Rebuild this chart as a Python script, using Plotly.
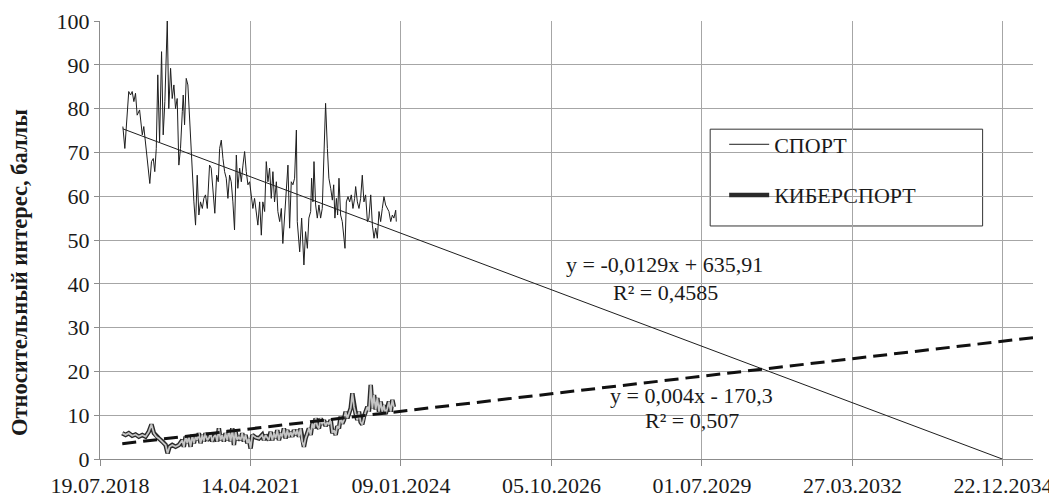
import plotly.graph_objects as go

# ---------------- data (x = Excel date serial numbers) ----------------
sport_x = [43452, 43465, 43491, 43503, 43514, 43525, 43536, 43547, 43563, 43581,
           43591, 43607, 43620, 43631, 43642, 43654, 43664, 43674, 43684, 43696,
           43709, 43720, 43731, 43747, 43757, 43769, 43780, 43791, 43802, 43813,
           43824, 43835, 43847, 43853, 43862, 43873, 43884, 43895, 43908, 43924,
           43935, 43946, 43957, 43968, 43980, 43990, 44001, 44013, 44028, 44039,
           44050, 44063, 44075, 44086, 44095, 44106, 44117, 44128, 44139, 44150,
           44161, 44172, 44183, 44194, 44206, 44216, 44228, 44239, 44250, 44261,
           44272, 44283, 44294, 44305, 44316, 44327, 44339, 44349, 44361, 44372,
           44382, 44394, 44405, 44416, 44427, 44438, 44449, 44460, 44472, 44482,
           44494, 44505, 44515, 44527, 44538, 44549, 44560, 44571, 44582, 44593,
           44605, 44611, 44627, 44640, 44655, 44666, 44678, 44688, 44700, 44706,
           44715, 44722, 44733, 44744, 44755, 44766, 44777, 44788, 44799, 44811,
           44821, 44833, 44844, 44853, 44861, 44871, 44879, 44888, 44899, 44910,
           44928, 44937, 44948, 44959, 44970, 44981, 44992, 44999, 45010, 45021,
           45032, 45043, 45054, 45065, 45077, 45087, 45099, 45110, 45121, 45132,
           45143, 45154, 45165, 45176, 45187, 45198, 45210, 45220, 45232, 45243,
           45253, 45265, 45269]
sport_y = [75.9, 70.9, 83.9, 83.1, 83.9, 81.6, 83.5, 78.5, 79.7, 74.0,
           75.9, 70.2, 66.4, 62.9, 67.9, 68.6, 65.6, 70.9, 87.7, 72.4,
           93.0, 74.0, 81.6, 100.0, 80.0, 89.2, 82.3, 85.4, 80.0, 82.3,
           67.1, 70.9, 79.3, 83.1, 76.3, 86.9, 85.4, 76.3, 69.4, 58.7,
           53.4, 64.8, 55.7, 58.7, 57.2, 59.5, 60.3, 57.2, 67.1, 66.4,
           61.0, 56.1, 64.8, 63.3, 70.9, 72.8, 68.6, 65.6, 64.1, 59.5,
           64.8, 63.3, 58.7, 52.3, 69.4, 61.8, 66.4, 63.3, 67.1, 70.2,
           65.6, 62.6, 63.3, 59.5, 57.2, 59.5, 56.5, 53.4, 58.7, 51.1,
           58.7, 56.5, 67.9, 63.3, 66.4, 59.5, 65.6, 58.7, 63.3, 56.5,
           54.2, 57.2, 49.2, 55.7, 61.8, 67.1, 52.7, 63.3, 62.6, 64.1,
           75.1, 54.2, 47.3, 55.0, 44.3, 51.9, 48.1, 55.0, 56.5, 64.1,
           58.7, 67.9, 58.0, 55.0, 58.0, 55.0, 57.2, 70.9, 81.2, 70.9,
           64.1, 61.8, 59.1, 62.6, 55.0, 59.5, 55.7, 64.1, 55.7, 54.2,
           48.1, 58.7, 59.9, 58.7, 60.3, 57.2, 59.5, 62.2, 58.7, 57.2,
           59.5, 64.8, 58.7, 60.3, 54.2, 55.0, 60.3, 53.4, 50.4, 52.7,
           50.4, 56.5, 54.2, 57.2, 59.9, 58.0, 57.2, 56.5, 54.2, 55.7,
           55.0, 56.8, 54.2]

cyber_x = [43448, 43470, 43491, 43514, 43536, 43558, 43581, 43603, 43624, 43642,
           43658, 43674, 43691, 43714, 43736, 43749, 43762, 43780, 43802, 43824,
           43847, 43857, 43869, 43880, 43890, 43902, 43913, 43924, 43935, 43946,
           43957, 43968, 43980, 43990, 44001, 44013, 44023, 44035, 44046, 44057,
           44068, 44079, 44090, 44101, 44112, 44123, 44134, 44146, 44156, 44168,
           44179, 44190, 44201, 44212, 44223, 44234, 44245, 44256, 44267, 44279,
           44289, 44301, 44312, 44334, 44356, 44378, 44389, 44400, 44422, 44434,
           44445, 44456, 44467, 44478, 44489, 44500, 44511, 44522, 44533, 44545,
           44555, 44567, 44578, 44589, 44600, 44611, 44622, 44633, 44644, 44655,
           44666, 44678, 44688, 44700, 44711, 44722, 44733, 44744, 44755, 44766,
           44777, 44788, 44799, 44811, 44821, 44833, 44844, 44855, 44866, 44877,
           44888, 44899, 44910, 44921, 44932, 44944, 44954, 44966, 44977, 44988,
           44999, 45010, 45021, 45032, 45043, 45054, 45065, 45077, 45087, 45099,
           45110, 45121, 45132, 45143, 45154, 45165, 45176, 45187, 45198, 45210,
           45220, 45232, 45243, 45253]
cyber_y = [5.9, 5.5, 5.9, 5.3, 5.6, 5.1, 5.5, 5.1, 6.2, 7.9,
           5.9, 5.1, 4.7, 4.0, 3.2, 1.3, 2.8, 3.2, 2.8, 3.2,
           4.3, 2.8, 5.1, 3.6, 5.1, 2.8, 5.5, 3.6, 5.1, 4.3,
           5.9, 3.6, 5.5, 4.0, 5.9, 4.3, 4.7, 5.9, 4.0, 5.1,
           5.5, 4.0, 7.0, 4.3, 5.5, 4.0, 5.9, 4.3, 6.6, 4.0,
           7.0, 3.2, 6.2, 4.3, 5.1, 4.3, 5.9, 4.0, 5.5, 3.6,
           4.7, 2.4, 5.5, 4.9, 4.7, 5.5, 4.3, 5.5, 4.3, 6.2,
           4.3, 5.9, 4.7, 6.6, 4.3, 5.9, 5.1, 7.0, 4.7, 6.6,
           5.1, 6.2, 5.1, 6.6, 5.5, 6.6, 5.1, 7.0, 4.0, 2.8,
           4.7, 5.9, 7.0, 5.5, 8.1, 7.0, 9.3, 7.5, 7.0, 9.3,
           7.9, 8.9, 7.5, 8.4, 7.9, 8.9, 5.9, 6.6, 5.5, 7.5,
           7.0, 9.7, 8.1, 8.9, 10.8, 9.3, 10.5, 11.6, 15.0, 11.9,
           10.3, 8.9, 10.8, 8.4, 7.9, 9.7, 10.8, 11.9, 10.8, 16.9,
           11.6, 14.6, 11.3, 13.9, 10.8, 13.1, 10.8, 12.3, 10.3, 11.6,
           13.1, 10.8, 13.5, 11.9]

# linear trend equations shown on the chart: y = a*x + b
sport_trend = {"a": -0.0129, "b": 635.91, "end": 49298}
cyber_trend = {"a": 0.004, "b": -170.3, "end": 49500}

tick_vals = [43300, 44300, 45300, 46300, 47300, 48300, 49300]
tick_text = ["19.07.2018", "14.04.2021", "09.01.2024", "05.10.2026",
             "01.07.2029", "27.03.2032", "22.12.2034"]

FONT = "Liberation Serif"
TXT = "#1a1a1a"

def trend_line(tr, x0):
    xs = [x0, tr["end"]]
    return xs, [tr["a"] * v + tr["b"] for v in xs]

fig = go.Figure()

# СПОРТ series
fig.add_trace(go.Scatter(x=sport_x, y=sport_y, mode="lines", name="СПОРТ",
                         line=dict(color="#1e1e1e", width=1),
                         legendgroup="a"))
# КИБЕРСПОРТ series (double line: dark outline + light core)
fig.add_trace(go.Scatter(x=cyber_x, y=cyber_y, mode="lines", name="КИБЕРСПОРТ",
                         line=dict(color="#2a2a2a", width=4.5),
                         legendgroup="b"))
fig.add_trace(go.Scatter(x=cyber_x, y=cyber_y, mode="lines", showlegend=False,
                         line=dict(color="#c4c4c4", width=1.8),
                         hoverinfo="skip"))

# trend lines
tx, ty = trend_line(sport_trend, sport_x[0])
fig.add_trace(go.Scatter(x=tx, y=ty, mode="lines", showlegend=False,
                         line=dict(color="#1e1e1e", width=1)))
tx, ty = trend_line(cyber_trend, cyber_x[0])
fig.add_trace(go.Scatter(x=tx, y=ty, mode="lines", showlegend=False,
                         line=dict(color="#111111", width=3, dash="14px,7px")))

# equation labels
eqs = [("y = -0,0129x + 635,91", 0.605, 0.445),
       ("R² = 0,4585", 0.606, 0.381),
       ("y = 0,004x - 170,3", 0.634, 0.146),
       ("R² = 0,507", 0.635, 0.087)]
for txt, xp, yp in eqs:
    fig.add_annotation(text=txt, x=xp, y=yp, xref="paper", yref="paper",
                       showarrow=False, xanchor="center", yanchor="middle",
                       font=dict(family=FONT, size=22, color=TXT))

# y-axis title
fig.add_annotation(text="<b>Относительный интерес, баллы</b>", textangle=-90,
                   x=-0.0855, y=0.425, xref="paper", yref="paper",
                   showarrow=False, xanchor="center", yanchor="middle",
                   font=dict(family=FONT, size=22.5, color=TXT))

# legend frame
fig.add_shape(type="rect", xref="paper", yref="paper",
              x0=0.654, x1=0.946, y0=0.532, y1=0.753,
              line=dict(color="#333333", width=1), fillcolor="white", layer="below")

# the page adds an 8px body margin, so the figure is sized/offset to compensate
fig.update_layout(
    width=1049, height=489,
    margin=dict(l=92, r=24, t=13, b=38),
    paper_bgcolor="white", plot_bgcolor="white",
    font=dict(family=FONT, size=22, color=TXT),
    showlegend=True,
    legend=dict(x=0.669, y=0.766, xanchor="left", yanchor="top",
                bgcolor="rgba(0,0,0,0)", borderwidth=0,
                font=dict(family=FONT, size=22, color=TXT),
                itemwidth=40, tracegroupgap=19, traceorder="grouped"),
    xaxis=dict(range=[43300, 49500], tickmode="array", tickvals=tick_vals,
               ticktext=tick_text, showgrid=True, gridcolor="#a6a6a6",
               gridwidth=1, showline=True, linecolor="#8c8c8c", linewidth=1,
               ticks="outside", ticklen=6, tickcolor="#8c8c8c",
               zeroline=False, automargin=False, ticklabelstandoff=1,
               tickfont=dict(family=FONT, size=22, color=TXT)),
    yaxis=dict(range=[0, 100], dtick=10, showgrid=True, gridcolor="#a6a6a6",
               gridwidth=1, showline=True, linecolor="#8c8c8c", linewidth=1,
               ticks="outside", ticklen=5, tickcolor="#8c8c8c",
               zeroline=False, automargin=False,
               tickfont=dict(family=FONT, size=22, color=TXT)),
)

fig.write_html("out.html")
